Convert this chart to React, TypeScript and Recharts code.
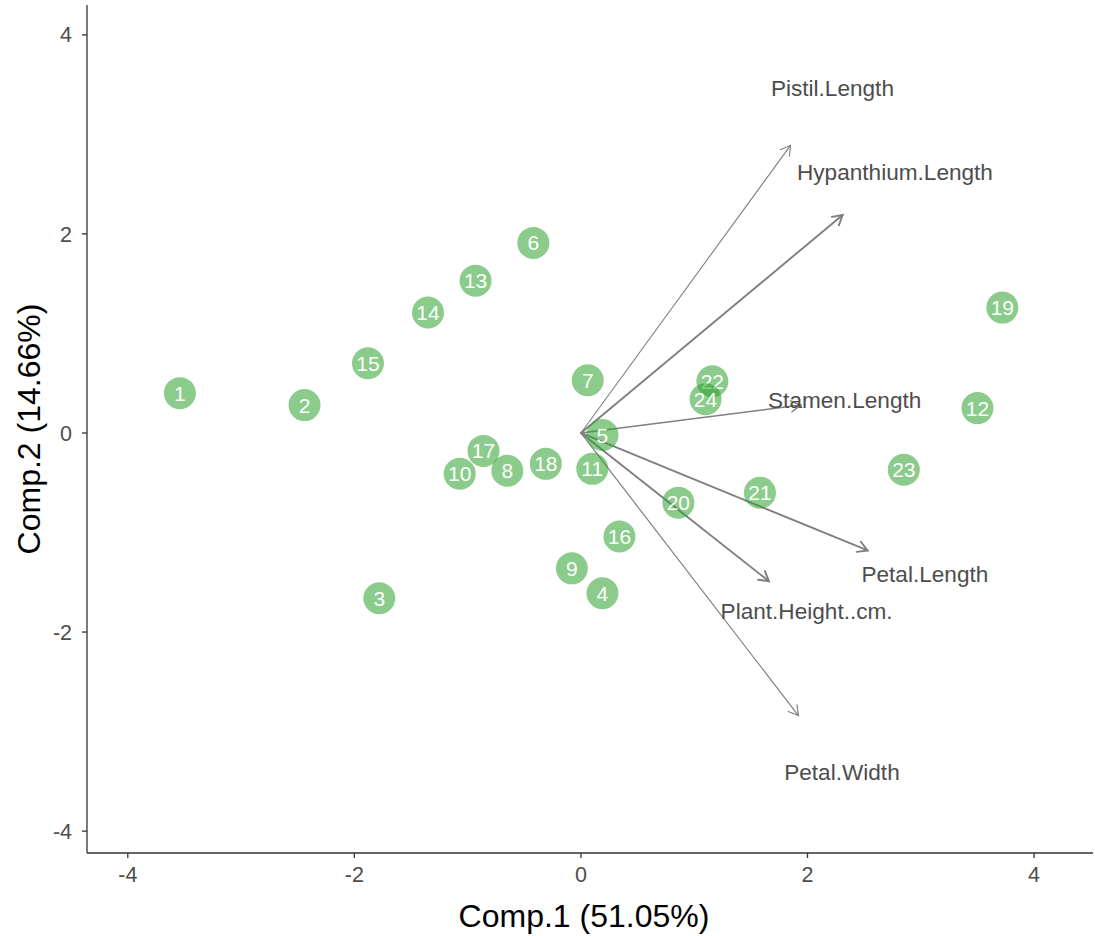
import { ReferenceLine, Scatter, ScatterChart, XAxis, YAxis } from "recharts";

// sample scores on the first two components
const sampleIds = [
  "1", "2", "3", "4", "5", "6", "7", "8", "9", "10", "11", "12",
  "13", "14", "15", "16", "17", "18", "19", "20", "21", "22", "23", "24"
];
const comp1 = [
  -3.54, -2.44, -1.78, 0.19, 0.19, -0.42, 0.06, -0.65, -0.08, -1.07, 0.1, 3.5,
  -0.93, -1.35, -1.88, 0.34, -0.86, -0.31, 3.72, 0.86, 1.58, 1.16, 2.85, 1.1
];
const comp2 = [
  0.4, 0.28, -1.66, -1.61, -0.02, 1.91, 0.53, -0.38, -1.36, -0.41, -0.36, 0.25,
  1.53, 1.21, 0.7, -1.04, -0.18, -0.31, 1.26, -0.7, -0.6, 0.52, -0.37, 0.34
];

// variable loadings (arrow tips) and their contribution
const varNames = [
  "Pistil.Length", "Hypanthium.Length", "Stamen.Length",
  "Petal.Length", "Plant.Height..cm.", "Petal.Width"
];
const loadX = [1.85, 2.31, 1.94, 2.53, 1.66, 1.92];
const loadY = [2.89, 2.19, 0.28, -1.18, -1.49, -2.84];
const contrib = [1.1, 1.9, 1.5, 1.9, 1.9, 1.2];

const xTicks = [-4, -2, 0, 2, 4];
const yTicks = [-4, -2, 0, 2, 4];

const scores = sampleIds.map((id, i) => ({ id, x: comp1[i], y: comp2[i] }));
const varLabels = varNames.map((name, i) => ({ name, x: loadX[i] * 1.2, y: loadY[i] * 1.2 }));

const FONT = "'Liberation Sans', Arial, sans-serif";

function ScorePoint(props: any) {
  const { cx, cy, payload } = props;
  if (cx == null || cy == null) return <g />;
  return (
    <g>
      <circle cx={cx} cy={cy} r={16} fill="#2ca02c" fillOpacity={0.55} />
      <text x={cx} y={cy} dy="0.36em" textAnchor="middle" fontSize={21} fill="#ffffff">
        {payload.id}
      </text>
    </g>
  );
}

function VarLabel(props: any) {
  const { cx, cy, payload } = props;
  if (cx == null || cy == null) return <g />;
  return (
    <text x={cx} y={cy} dy="0.36em" textAnchor="middle" fontSize={22.6} fill="#4d4d4d">
      {payload.name}
    </text>
  );
}

function arrowShape(width: number) {
  return (props: any) => {
    const { x1, y1, x2, y2 } = props;
    if ([x1, y1, x2, y2].some((v) => v == null || isNaN(v))) return <g />;
    const ang = Math.atan2(y2 - y1, x2 - x1);
    const len = 11;
    const spread = Math.PI / 6;
    const ax = x2 - len * Math.cos(ang - spread);
    const ay = y2 - len * Math.sin(ang - spread);
    const bx = x2 - len * Math.cos(ang + spread);
    const by = y2 - len * Math.sin(ang + spread);
    return (
      <g stroke="#7f7f7f" strokeWidth={width} fill="none" strokeLinecap="round">
        <line x1={x1} y1={y1} x2={x2} y2={y2} />
        <polyline points={`${ax},${ay} ${x2},${y2} ${bx},${by}`} />
      </g>
    );
  };
}

function YTitle(props: any) {
  const vb = props.viewBox || {};
  const cy = (vb.y ?? 5) + (vb.height ?? 848) / 2;
  const cx = 28;
  return (
    <text x={cx} y={cy} transform={`rotate(-90, ${cx}, ${cy})`} textAnchor="middle" dy="0.36em" fontSize={32} fill="#000">
      Comp.2 (14.66%)
    </text>
  );
}

export default function App() {
  return (
    <div style={{ position: "absolute", left: 0, top: 0, width: 1095, height: 936, background: "#fff", fontFamily: FONT }}>
      <ScatterChart width={1095} height={936} margin={{ top: 5, right: 2, bottom: 0, left: 0 }}>
        <XAxis
          type="number"
          dataKey="x"
          domain={[-4.36, 4.52]}
          ticks={xTicks}
          allowDataOverflow
          height={83}
          stroke="#333333"
          strokeWidth={1.3}
          tickSize={5}
          tickMargin={9}
          tick={{ fill: "#4d4d4d", fontSize: 21.5 }}
          label={{ value: "Comp.1 (51.05%)", position: "insideBottom", offset: 9, dx: -6, fill: "#000", fontSize: 32 }}
        />
        <YAxis
          type="number"
          dataKey="y"
          domain={[-4.22, 4.3]}
          ticks={yTicks}
          allowDataOverflow
          width={87}
          stroke="#333333"
          strokeWidth={1.3}
          tickSize={5}
          tickMargin={10}
          tick={{ fill: "#4d4d4d", fontSize: 21.5 }}
          label={<YTitle />}
        />
        <Scatter data={scores} shape={<ScorePoint />} isAnimationActive={false} />
        {varNames.map((name, i) => (
          <ReferenceLine
            key={name}
            segment={[{ x: 0, y: 0 }, { x: loadX[i], y: loadY[i] }]}
            ifOverflow="visible"
            shape={arrowShape(contrib[i])}
          />
        ))}
        <Scatter data={varLabels} shape={<VarLabel />} isAnimationActive={false} />
      </ScatterChart>
    </div>
  );
}
